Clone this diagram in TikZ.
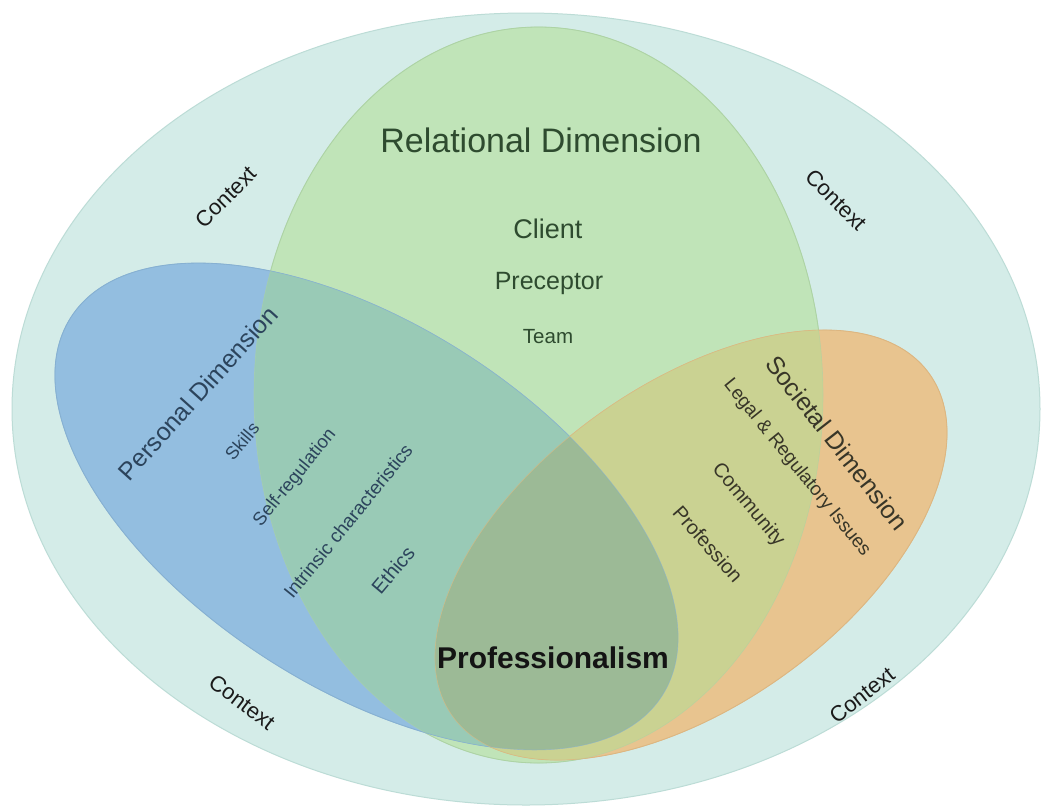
\documentclass[tikz,border=0pt]{standalone}
\usepackage{fontspec}
\setmainfont{Liberation Sans}
\definecolor{outerC}{HTML}{D4ECE8}
\definecolor{outerB}{HTML}{BCDCD6}
\definecolor{greenC}{HTML}{C0E4B8}
\definecolor{greenB}{HTML}{ADD3A4}
\definecolor{blueC}{HTML}{93BEE0}
\definecolor{blueB}{HTML}{86B0D2}
\definecolor{orangeC}{HTML}{E8C48F}
\definecolor{orangeB}{HTML}{DDB680}
\definecolor{bgC}{HTML}{99CAB6}
\definecolor{goC}{HTML}{CAD292}
\definecolor{triC}{HTML}{9CBA96}
\definecolor{relT}{HTML}{2E4B2F}
\definecolor{perT}{HTML}{2C445C}
\definecolor{socT}{HTML}{383628}
\definecolor{ctxT}{HTML}{1A1A1A}
\newcommand{\fsz}[1]{\fontsize{#1}{#1}\selectfont}
\tikzset{
  blueT/.style={rotate around={-32.6:(366.5,506.5)}},
  orangeT/.style={rotate around={35.7:(691,545)}},
  lbl/.style={inner sep=0pt, anchor=center},
}
\begin{document}
\begin{tikzpicture}[x=1pt,y=-1pt]
\useasboundingbox (0,0) rectangle (1045,807);
\fill[white] (0,0) rectangle (1045,807);
% outer context
\filldraw[fill=outerC, draw=outerB, line width=1pt] (526,409) ellipse [x radius=514pt, y radius=396pt];
% single regions
\filldraw[fill=greenC, draw=greenB, line width=0.8pt] (538.5,395) ellipse [x radius=284.5pt, y radius=368pt];
\filldraw[blueT, fill=blueC, draw=blueB, line width=0.8pt] (366.5,506.5) ellipse [x radius=351pt, y radius=182pt];
\filldraw[orangeT, fill=orangeC, draw=orangeB, line width=0.8pt] (691,545) ellipse [x radius=293.5pt, y radius=160pt];
% blue & green
\begin{scope}
  \clip[blueT] (366.5,506.5) ellipse [x radius=351pt, y radius=182pt];
  \fill[bgC] (538.5,395) ellipse [x radius=284.5pt, y radius=368pt];
\end{scope}
% green & orange
\begin{scope}
  \clip[orangeT] (691,545) ellipse [x radius=293.5pt, y radius=160pt];
  \fill[goC] (538.5,395) ellipse [x radius=284.5pt, y radius=368pt];
\end{scope}
% blue & orange (triple)
\begin{scope}
  \clip[blueT] (366.5,506.5) ellipse [x radius=351pt, y radius=182pt];
  \fill[triC] [orangeT] (691,545) ellipse [x radius=293.5pt, y radius=160pt];
\end{scope}
% faint boundary lines inside overlaps
\draw[greenB, line width=0.6pt, opacity=0.6] (538.5,395) ellipse [x radius=284.5pt, y radius=368pt];
\draw[blueT, blueB, line width=0.6pt, opacity=0.6] (366.5,506.5) ellipse [x radius=351pt, y radius=182pt];
\draw[orangeT, orangeB, line width=0.6pt, opacity=0.6] (691,545) ellipse [x radius=293.5pt, y radius=160pt];

% Relational dimension texts
\node[inner sep=0pt, anchor=base, text=relT, font=\fsz{34}] (rel) at (541,152) {Relational Dimension};
\node[inner sep=0pt, anchor=base, text=relT, font=\fsz{27}] (client) at (548,238) {Client};
\node[inner sep=0pt, anchor=base, text=relT, font=\fsz{25}] (prec) at (549,289) {Preceptor};
\node[inner sep=0pt, anchor=base, text=relT, font=\fsz{20.5}] (team) at (548,343) {Team};

% Personal dimension texts
\node[lbl, rotate=48, text=perT, font=\fsz{25}] (pers) at (198,393) {Personal Dimension};
\node[lbl, rotate=50, text=perT, font=\fsz{18}] (skills) at (242,441) {Skills};
\node[lbl, rotate=51, text=perT, font=\fsz{18.5}] (selfreg) at (295,478) {Self-regulation};
\node[lbl, rotate=51, text=perT, font=\fsz{19}] (intr) at (348,521) {Intrinsic characteristics};
\node[lbl, rotate=50, text=perT, font=\fsz{20}] (ethics) at (393,570) {Ethics};

% Societal dimension texts
\node[lbl, rotate=-52, text=socT, font=\fsz{25}] (soc) at (837,443) {Societal Dimension};
\node[lbl, rotate=-51, text=socT, font=\fsz{19}] (legal) at (797,468) {Legal \& Regulatory Issues};
\node[lbl, rotate=-50, text=socT, font=\fsz{20}] (comm) at (748,505) {Community};
\node[lbl, rotate=-49, text=socT, font=\fsz{20}] (prof) at (708,544) {Profession};

% Context labels
\node[lbl, rotate=45, text=ctxT, font=\fsz{22}] (ctl) at (226,197) {Context};
\node[lbl, rotate=-45, text=ctxT, font=\fsz{22}] (ctr) at (836,200) {Context};
\node[lbl, rotate=-37, text=ctxT, font=\fsz{22}] (cbl) at (242,702) {Context};
\node[lbl, rotate=38, text=ctxT, font=\fsz{22}] (cbr) at (862,695) {Context};

% centre
\node[inner sep=0pt, anchor=base, text=black!92, font=\fsz{30}\bfseries] (pro) at (553,668) {Professionalism};
\end{tikzpicture}
\end{document}
